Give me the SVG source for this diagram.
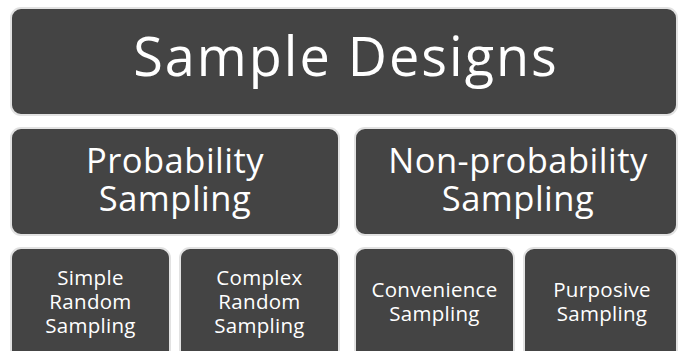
<svg xmlns="http://www.w3.org/2000/svg" width="678" height="351" viewBox="0 0 678 351">
<style>
.box{fill:#444444;stroke:#e2e2e2;stroke-width:2}
.t{fill:#ffffff;font-family:"Open Sans","Noto Sans","DejaVu Sans",sans-serif;text-anchor:middle}
.t1{font-size:54px;letter-spacing:2px}
.t2{font-size:34.5px;letter-spacing:0.5px}
.t3{font-size:20.5px;letter-spacing:0.3px}
</style>
<rect width="678" height="351" fill="#ffffff"/>
<g id="sample-designs">
<rect class="box" x="11" y="8" width="666" height="107" rx="10"/>
<text class="t t1" x="346" y="76">Sample Designs</text>
</g>
<g id="probability">
<rect class="box" x="11" y="128" width="328" height="107" rx="10"/>
<text class="t t2" x="175" y="173">Probability</text>
<text class="t t2" x="175" y="211">Sampling</text>
</g>
<g id="non-probability">
<rect class="box" x="355" y="128" width="322" height="107" rx="10"/>
<text class="t t2" x="518" y="173">Non-probability</text>
<text class="t t2" x="518" y="211">Sampling</text>
</g>
<g id="simple-random">
<rect class="box" x="11" y="248" width="159" height="112" rx="10"/>
<text class="t t3" x="90.5" y="285">Simple</text>
<text class="t t3" x="90.5" y="309">Random</text>
<text class="t t3" x="90.5" y="333">Sampling</text>
</g>
<g id="complex-random">
<rect class="box" x="180" y="248" width="159" height="112" rx="10"/>
<text class="t t3" x="259.5" y="285">Complex</text>
<text class="t t3" x="259.5" y="309">Random</text>
<text class="t t3" x="259.5" y="333">Sampling</text>
</g>
<g id="convenience">
<rect class="box" x="355" y="248" width="159" height="112" rx="10"/>
<text class="t t3" x="434.5" y="297">Convenience</text>
<text class="t t3" x="434.5" y="321">Sampling</text>
</g>
<g id="purposive">
<rect class="box" x="524" y="248" width="153" height="112" rx="10"/>
<text class="t t3" x="602" y="297">Purposive</text>
<text class="t t3" x="602" y="321">Sampling</text>
</g>
<g id="connectors"/>
</svg>
